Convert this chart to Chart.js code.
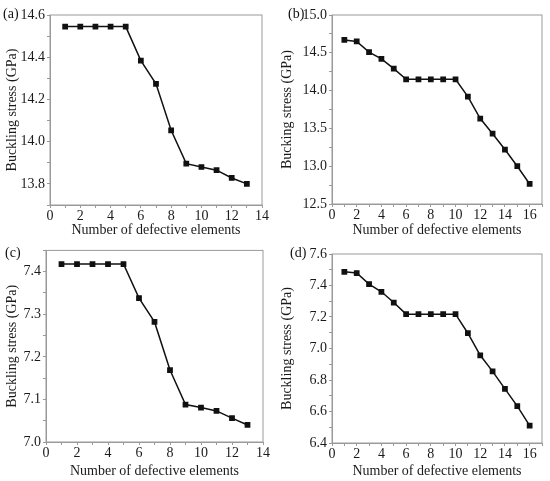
<!DOCTYPE html>
<html>
<head>
<meta charset="utf-8">
<script src="https://cdn.jsdelivr.net/npm/chart.js@4"></script>
<style>
  body { margin: 0; background: #fff; }
  #wrap { position: relative; width: 550px; height: 481px; font-family: "Liberation Serif", serif; }
  .panel { position: absolute; }
  .tag { position: absolute; font-size: 14px; color: #111; line-height: 16px; }
</style>
</head>
<body>
<div id="wrap">
  <div class="panel" style="left:0;top:0;width:275px;height:240px"><canvas id="panelA"></canvas></div>
  <div class="panel" style="left:275px;top:0;width:275px;height:240px"><canvas id="panelB"></canvas></div>
  <div class="panel" style="left:0;top:240px;width:275px;height:241px"><canvas id="panelC"></canvas></div>
  <div class="panel" style="left:275px;top:240px;width:275px;height:241px"><canvas id="panelD"></canvas></div>
  <div class="tag" style="left:3px;top:6px">(a)</div>
  <div class="tag" style="left:288px;top:6px">(b)</div>
  <div class="tag" style="left:5px;top:245px">(c)</div>
  <div class="tag" style="left:290px;top:245px">(d)</div>
</div>
<script>
// number of defective elements
var elemsA = [1, 2, 3, 4, 5, 6, 7, 8, 9, 10, 11, 12, 13];
var elemsB = [1, 2, 3, 4, 5, 6, 7, 8, 9, 10, 11, 12, 13, 14, 15, 16];
var elemsC = [1, 2, 3, 4, 5, 6, 7, 8, 9, 10, 11, 12, 13];
var elemsD = [1, 2, 3, 4, 5, 6, 7, 8, 9, 10, 11, 12, 13, 14, 15, 16];

// buckling stress (GPa)
var stressA = [14.545, 14.545, 14.545, 14.545, 14.545, 14.384, 14.274, 14.054, 13.896, 13.88, 13.865, 13.828, 13.80];
var stressB = [14.67, 14.65, 14.51, 14.42, 14.29, 14.15, 14.15, 14.15, 14.15, 14.15, 13.92, 13.63, 13.43, 13.22, 13.0, 12.765];
var stressC = [7.418, 7.418, 7.418, 7.418, 7.418, 7.338, 7.282, 7.169, 7.088, 7.081, 7.073, 7.056, 7.04];
var stressD = [7.487, 7.479, 7.409, 7.36, 7.292, 7.218, 7.218, 7.218, 7.218, 7.218, 7.097, 6.957, 6.855, 6.744, 6.634, 6.51];

// axis ranges: [min, max, minor step, labelled step]
var xAxisA = [0, 14, 1, 2];
var xAxisB = [0, 17, 1, 2];
var xAxisC = [0, 14, 1, 2];
var xAxisD = [0, 17, 1, 2];
var yAxisA = [13.7, 14.6, 0.1, 0.2];
var yAxisB = [12.5, 15.0, 0.25, 0.5];
var yAxisC = [7.0, 7.45, 0.05, 0.1];
var yAxisD = [6.4, 7.6, 0.1, 0.2];

var boxPlugin = {
  id: 'box',
  afterDraw: function(chart) {
    var a = chart.chartArea, c = chart.ctx;
    c.save();
    c.strokeStyle = '#9a9a9a';
    c.lineWidth = 1;
    c.strokeRect(a.left, a.top, a.right - a.left, a.bottom - a.top);
    c.restore();
  }
};

var serif = { family: 'Liberation Serif', size: 14 };

function makePanel(id, xs, ys, xr, yr, yTitle, box) {
  var pts = xs.map(function(x, i) { return { x: x, y: ys[i] }; });
  var yLab = Math.round(yr[3] * 100);
  return new Chart(document.getElementById(id).getContext('2d'), {
    type: 'line',
    data: {
      datasets: [{
        data: pts,
        borderColor: '#111',
        backgroundColor: '#111',
        borderWidth: 1.5,
        pointStyle: 'rect',
        pointRadius: 3,
        pointHoverRadius: 3,
        tension: 0
      }]
    },
    plugins: [boxPlugin],
    options: {
      responsive: true,
      maintainAspectRatio: false,
      animation: false,
      layout: { padding: { top: box.top, right: box.right, left: 0, bottom: 0 } },
      plugins: { legend: { display: false }, tooltip: { enabled: false } },
      scales: {
        x: {
          type: 'linear',
          min: xr[0], max: xr[1],
          afterFit: function(s) { s.height = box.xh; },
          grid: { drawOnChartArea: false, tickLength: 3, color: '#9a9a9a' },
          border: { color: '#9a9a9a' },
          ticks: {
            stepSize: xr[2], autoSkip: false, maxRotation: 0, padding: 0,
            color: '#1a1a1a', font: serif,
            callback: function(v) { return v % xr[3] === 0 ? String(v) : ''; }
          },
          title: { display: true, text: 'Number of defective elements', color: '#1a1a1a', font: serif, padding: { top: 0, bottom: 1 } }
        },
        y: {
          min: yr[0], max: yr[1],
          afterFit: function(s) { s.width = box.yw; },
          grid: { drawOnChartArea: false, tickLength: 3, color: '#9a9a9a' },
          border: { color: '#9a9a9a' },
          ticks: {
            stepSize: yr[2], autoSkip: false, padding: 2,
            color: '#1a1a1a', font: serif,
            callback: function(v) { return Math.round(v * 100) % yLab === 0 ? v.toFixed(1) : ''; }
          },
          title: { display: true, text: yTitle, color: '#1a1a1a', font: serif, padding: { top: 4, bottom: 0 } }
        }
      }
    }
  });
}

makePanel('panelA', elemsA, stressA, xAxisA, yAxisA, 'Buckling stress (GPa)', { top: 15, right: 13, yw: 50, xh: 35 });
makePanel('panelB', elemsB, stressB, xAxisB, yAxisB, 'Bucking stress (GPa)', { top: 15, right: 8, yw: 57, xh: 36 });
makePanel('panelC', elemsC, stressC, xAxisC, yAxisC, 'Buckling stress (GPa)', { top: 7, right: 12, yw: 46, xh: 39 });
makePanel('panelD', elemsD, stressD, xAxisD, yAxisD, 'Buckling stress (GPa)', { top: 14, right: 8, yw: 57, xh: 38 });
</script>
</body>
</html>
